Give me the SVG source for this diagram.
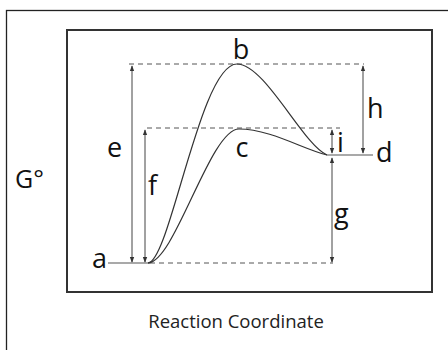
<svg xmlns="http://www.w3.org/2000/svg" width="448" height="350" viewBox="0 0 448 350">
<style>
.lbl{font-family:"Open Sans","Noto Sans","Liberation Sans",sans-serif;font-size:27px;fill:#111}
.dash{stroke:#555;stroke-width:1;stroke-dasharray:5,4;fill:none}
.solid{stroke:#555;stroke-width:1.2;fill:none}
.curve{stroke:#333;stroke-width:1.2;fill:none}
.dim{stroke:#444;stroke-width:1;fill:none;marker-start:url(#ah);marker-end:url(#ah)}
</style>
<defs>
<marker id="ah" viewBox="0 0 8 8" refX="7" refY="4" markerWidth="6" markerHeight="6" orient="auto-start-reverse" markerUnits="userSpaceOnUse">
<path d="M0,1 L8,4 L0,7 Z" fill="#333"/>
</marker>
</defs>
<rect x="0" y="0" width="448" height="350" fill="#fff"/>
<g id="frame">
<rect x="6.5" y="10.5" width="460" height="360" fill="none" stroke="#222" stroke-width="1.3"/>
</g>
<g id="plot">
<rect x="67" y="30" width="365" height="262" fill="none" stroke="#333" stroke-width="2"/>
</g>
<g id="connectors">
<line class="dash" x1="129" y1="64" x2="364" y2="64"/>
<line class="dash" x1="147" y1="128" x2="340" y2="128"/>
<line class="dash" x1="150" y1="263" x2="333" y2="263"/>
<line class="solid" x1="108" y1="263" x2="150" y2="263"/>
<line class="solid" x1="327" y1="155" x2="373" y2="155"/>
<path class="curve" d="M148,263 C170,262 200,64 237,64 C265,64 303,145 327,155"/>
<path class="curve" d="M148,263 C175,262 210,129 239,129 C270,129 305,150 327,155"/>
<line class="dim" x1="132" y1="66" x2="132" y2="262"/>
<line class="dim" x1="145" y1="130" x2="145" y2="262"/>
<line class="dim" x1="363" y1="66" x2="363" y2="153"/>
<line class="dim" x1="332" y1="130" x2="332" y2="153"/>
<line class="dim" x1="332" y1="158" x2="332" y2="262"/>
</g>
<g id="label-a"><text class="lbl" x="92" y="268">a</text></g>
<g id="label-b"><text class="lbl" x="241" y="59" text-anchor="middle">b</text></g>
<g id="label-c"><text class="lbl" x="242" y="157" text-anchor="middle">c</text></g>
<g id="label-d"><text class="lbl" x="376" y="162">d</text></g>
<g id="label-e"><text class="lbl" x="107" y="157">e</text></g>
<g id="label-f"><text class="lbl" x="148" y="195">f</text></g>
<g id="label-g"><text class="lbl" x="334" y="223">g</text></g>
<g id="label-h"><text class="lbl" x="367" y="118">h</text></g>
<g id="label-i"><text class="lbl" x="337" y="152">i</text></g>
<g id="label-G"><text class="lbl" x="15" y="188" style="font-size:25px">G°</text></g>
<g id="xlabel"><text x="236" y="328" text-anchor="middle" style="font-family:'Open Sans','Noto Sans','Liberation Sans',sans-serif;font-size:18.5px;fill:#222">Reaction Coordinate</text></g>
</svg>
